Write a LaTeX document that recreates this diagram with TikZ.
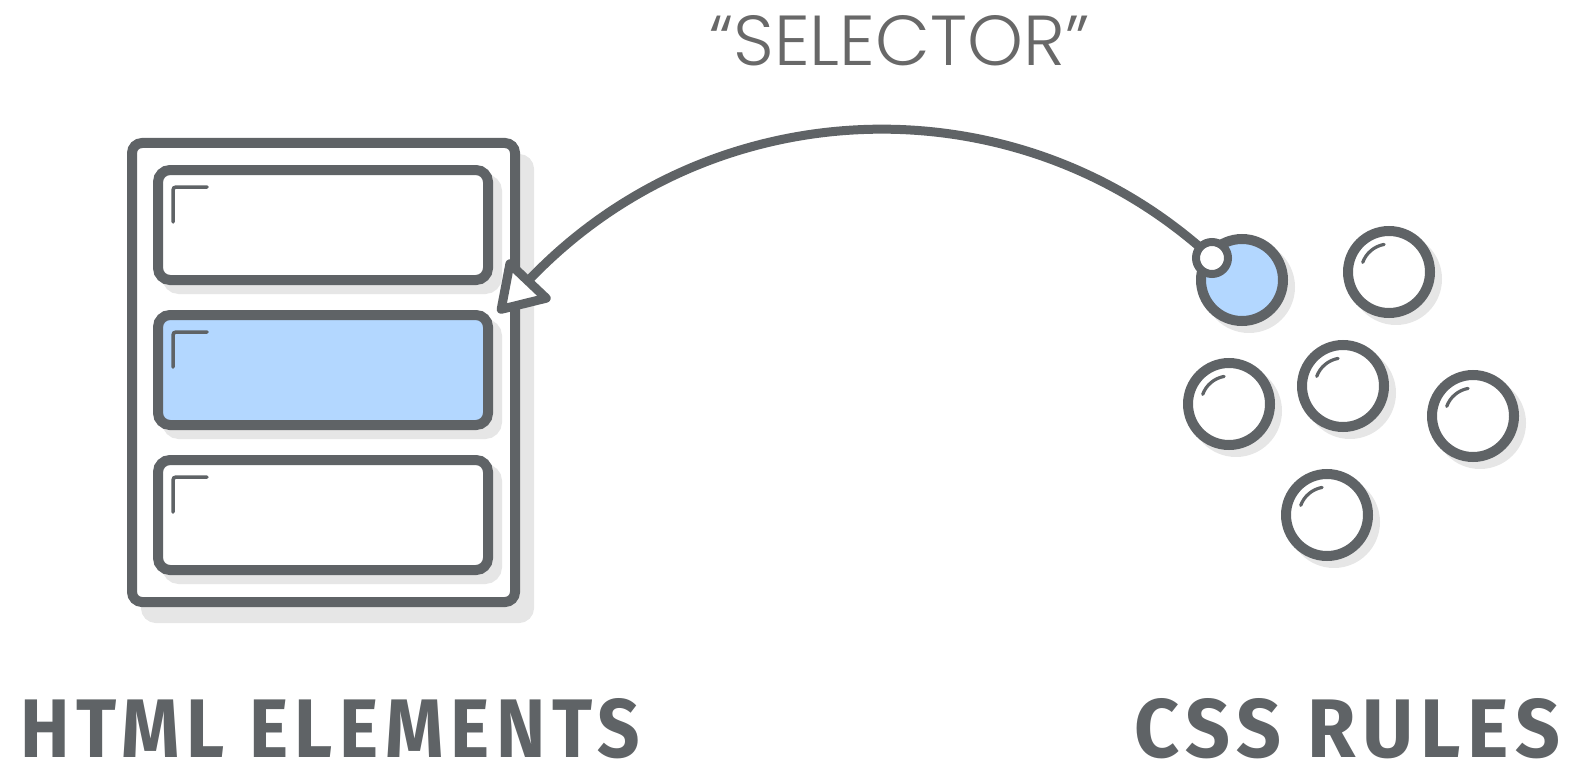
\documentclass[tikz,border=0pt]{standalone}
\usepackage{fontspec}
\usepackage{graphicx}
\newfontfamily\selfont{Poppins Light}
\newfontfamily\labfont{Fira Sans}[LetterSpace=9]
\usetikzlibrary{shadows,calc}
\definecolor{ink}{HTML}{5F6366}
\definecolor{selc}{HTML}{686868}
\definecolor{blu}{HTML}{B3D7FF}
\definecolor{shad}{HTML}{E6E6E6}
\tikzset{
  pagebox/.style={draw=ink, fill=white, line width=10pt, rounded corners=10pt, outer sep=0pt,
    minimum width=383pt, minimum height=459pt, inner sep=0pt,
    drop shadow={shadow xshift=14pt, shadow yshift=-16pt, fill=shad, draw=shad, line width=10pt, opacity=1}},
  elbox/.style={draw=ink, fill=white, line width=10pt, rounded corners=12pt, outer sep=0pt,
    minimum width=330pt, minimum height=110pt, inner sep=0pt,
    drop shadow={shadow xshift=9pt, shadow yshift=-9pt, fill=shad, draw=shad, line width=10pt, opacity=1}},
  cornermark/.style={draw=ink, line width=3.5pt, rounded corners=3pt, line cap=round},
  rule/.style={circle, draw=ink, fill=white, line width=10pt, minimum size=82pt, inner sep=0pt, outer sep=0pt,
    drop shadow={shadow xshift=7pt, shadow yshift=-7pt, fill=shad, draw=shad, line width=10pt, opacity=1}},
  shine/.style={draw=ink, line width=3.2pt, line cap=round},
  selknob/.style={circle, draw=ink, fill=white, line width=8pt, minimum size=32pt, inner sep=0pt, outer sep=0pt},
  conn/.style={draw=ink, line width=9pt},
  tiphead/.style={draw=ink, fill=white, line width=9pt, line join=round},
  biglabel/.style={anchor=base west, inner sep=0pt, text=ink},
}
\begin{document}
\begin{tikzpicture}[x=1pt,y=-1pt]
\useasboundingbox (0,0) rectangle (1582,765);
% HTML page
\node[pagebox] (page) at (323.5,372.5) {};
\node[elbox] (e1) at (323,225) {};
\node[elbox, fill=blu] (e2) at (323,370) {};
\node[elbox] (e3) at (323,515) {};
\foreach \e in {e1,e2,e3}
  \draw[cornermark] (\e.north west) ++(15,52) |- ++(34,-35);
% CSS rules
\node[rule, fill=blu] (rsel) at (1242,280) {};
\node[rule] (r1) at (1389,272) {};
\node[rule] (r2) at (1229,404) {};
\node[rule] (r3) at (1343,386) {};
\node[rule] (r4) at (1473,416) {};
\node[rule] (r5) at (1327,515) {};
\foreach \r in {r1,r2,r3,r4,r5}
  \draw[shine] (\r.center) ++(-160:28) arc[start angle=-160, end angle=-100, radius=28];
% selector connector
\coordinate (knob) at (1212,258);
\coordinate (tipbase) at (528,281);
\draw[conn] (knob) .. controls (1016.5,77.6) and (711,87.9) .. (tipbase);
\draw[tiphead] (509.9,263.8) -- (501.2,309.3) -- (546.2,298.2) -- cycle;
\node[selknob] (sel) at (knob) {};
% labels
\node[biglabel, text=selc] (seltxt) at (709,66) {\resizebox{380pt}{50pt}{\selfont “SELECTOR”}};
\node[biglabel] (htmllab) at (20,757) {\resizebox{620pt}{59pt}{\labfont\bfseries HTML ELEMENTS}};
\node[biglabel] (csslab) at (1134,757) {\resizebox{426pt}{59pt}{\labfont\bfseries CSS RULES}};
\end{tikzpicture}
\end{document}
